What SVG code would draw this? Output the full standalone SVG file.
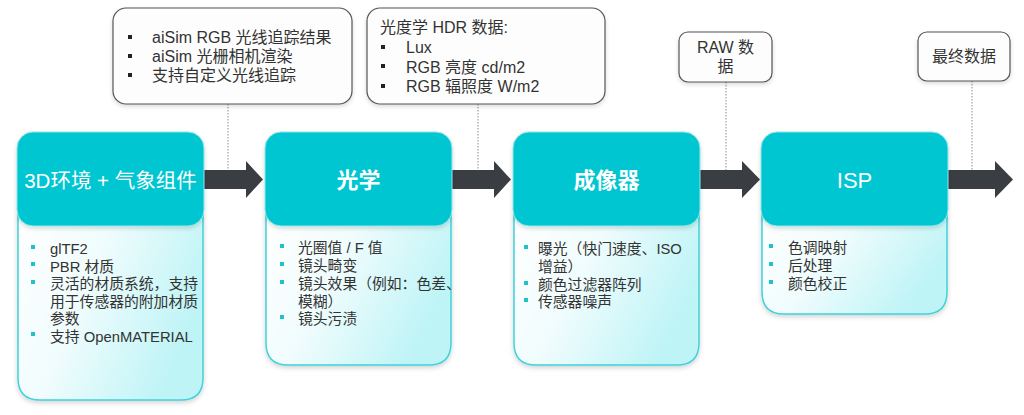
<svg xmlns="http://www.w3.org/2000/svg" width="1024" height="415" viewBox="0 0 1024 415">
<defs>
<linearGradient id="bodyGrad" x1="0" y1="0" x2="1" y2="0.4">
<stop offset="0" stop-color="#ffffff"/>
<stop offset="0.45" stop-color="#f0fcfd"/>
<stop offset="1" stop-color="#bff4f6"/>
</linearGradient>
<filter id="shadow" x="-10%" y="-10%" width="120%" height="125%">
<feDropShadow dx="0" dy="2" stdDeviation="2.5" flood-color="#000" flood-opacity="0.18"/>
</filter>
<filter id="shadowS" x="-10%" y="-10%" width="120%" height="130%">
<feDropShadow dx="0" dy="2" stdDeviation="2" flood-color="#000" flood-opacity="0.15"/>
</filter>
</defs>
<style>
.body{fill:url(#bodyGrad);stroke:#3fd2da;stroke-width:1.5}
.head{fill:#04c6d1;stroke:#8fe6ea;stroke-width:1}
.title{font-family:"Liberation Sans","Noto Sans CJK SC",sans-serif;font-size:22px;fill:#ffffff;text-anchor:middle}
.title-s{font-size:20.5px}
.txt{font-family:"Liberation Sans","Noto Sans CJK SC",sans-serif;font-size:14.8px;fill:#333}
.ctxt{font-family:"Liberation Sans","Noto Sans CJK SC",sans-serif;font-size:16px;fill:#333}
.bul{fill:#1fc2cc}
.cbul{fill:#222}
.call{fill:#fdfdfd;stroke:#555;stroke-width:1.2}
.arrow{fill:#3a3e43}
.dot{stroke:#8a8a8a;stroke-width:1;stroke-dasharray:1.5 1.5;fill:none}
</style>

<g id="connectors">
<line class="dot" x1="228" y1="104" x2="228" y2="172"/>
<line class="dot" x1="478" y1="104" x2="478" y2="172"/>
<line class="dot" x1="726" y1="82" x2="726" y2="172"/>
<line class="dot" x1="972" y1="81" x2="972" y2="172"/>
<path class="arrow" d="M204 170 H246 V161 L263 179.5 L246 198 V189 H204 Z"/>
<path class="arrow" d="M452 170 H494 V161 L511 179.5 L494 198 V189 H452 Z"/>
<path class="arrow" d="M700 170 H742 V161 L760 179.5 L742 198 V189 H700 Z"/>
<path class="arrow" d="M948 170 H995 V161 L1013 179.5 L995 198 V189 H948 Z"/>
</g>

<g id="node-3d">
<path class="body" filter="url(#shadow)" d="M18 215 H203 V378 Q203 400 181 400 H40 Q18 400 18 378 Z"/>
<rect class="head" filter="url(#shadowS)" x="17" y="132" width="187" height="94" rx="16"/>
<text class="title title-s" x="110.5" y="188">3D环境 + 气象组件</text>
<rect class="bul" x="31" y="245" width="4" height="4"/>
<rect class="bul" x="31" y="262" width="4" height="4"/>
<rect class="bul" x="31" y="280" width="4" height="4"/>
<rect class="bul" x="31" y="332" width="4" height="4"/>
<text class="txt" x="50" y="254">glTF2</text>
<text class="txt" x="50" y="271.5">PBR 材质</text>
<text class="txt" x="50" y="289">灵活的材质系统，支持</text>
<text class="txt" x="50" y="306.5">用于传感器的附加材质</text>
<text class="txt" x="50" y="324">参数</text>
<text class="txt" x="50" y="341.5">支持 OpenMATERIAL</text>
</g>

<g id="node-optics">
<path class="body" filter="url(#shadow)" d="M266 215 H451 V343 Q451 365 429 365 H288 Q266 365 266 343 Z"/>
<rect class="head" filter="url(#shadowS)" x="265" y="132" width="187" height="94" rx="16"/>
<text class="title" x="358.5" y="188" font-weight="bold">光学</text>
<rect class="bul" x="280" y="244" width="4" height="4"/>
<rect class="bul" x="280" y="262" width="4" height="4"/>
<rect class="bul" x="280" y="280" width="4" height="4"/>
<rect class="bul" x="280" y="315" width="4" height="4"/>
<text class="txt" x="298" y="253">光圈值 / F 值</text>
<text class="txt" x="298" y="271">镜头畸变</text>
<text class="txt" x="298" y="289">镜头效果（例如：色差、</text>
<text class="txt" x="298" y="306.5">模糊）</text>
<text class="txt" x="298" y="324">镜头污渍</text>
</g>

<g id="node-imager">
<path class="body" filter="url(#shadow)" d="M514 215 H699 V343 Q699 365 677 365 H536 Q514 365 514 343 Z"/>
<rect class="head" filter="url(#shadowS)" x="513" y="132" width="187" height="94" rx="16"/>
<text class="title" x="606.5" y="188" font-weight="bold">成像器</text>
<rect class="bul" x="524" y="245" width="4" height="4"/>
<rect class="bul" x="524" y="281" width="4" height="4"/>
<rect class="bul" x="524" y="298" width="4" height="4"/>
<text class="txt" x="538" y="254">曝光（快门速度、ISO</text>
<text class="txt" x="538" y="271.5">增益）</text>
<text class="txt" x="538" y="289.5">颜色过滤器阵列</text>
<text class="txt" x="538" y="307">传感器噪声</text>
</g>

<g id="node-isp">
<path class="body" filter="url(#shadow)" d="M762 215 H947 V292 Q947 314 925 314 H784 Q762 314 762 292 Z"/>
<rect class="head" filter="url(#shadowS)" x="761" y="132" width="187" height="94" rx="16"/>
<text class="title" x="854.5" y="188">ISP</text>
<rect class="bul" x="769" y="244" width="4" height="4"/>
<rect class="bul" x="769" y="262" width="4" height="4"/>
<rect class="bul" x="769" y="280" width="4" height="4"/>
<text class="txt" x="788" y="253">色调映射</text>
<text class="txt" x="788" y="271">后处理</text>
<text class="txt" x="788" y="289">颜色校正</text>
</g>

<g id="callout-render">
<rect class="call" filter="url(#shadowS)" x="113" y="8" width="239" height="96" rx="13"/>
<rect class="cbul" x="128" y="35" width="4" height="4"/>
<rect class="cbul" x="128" y="54" width="4" height="4"/>
<rect class="cbul" x="128" y="73" width="4" height="4"/>
<text class="ctxt" x="152" y="43">aiSim RGB 光线追踪结果</text>
<text class="ctxt" x="152" y="62">aiSim 光栅相机渲染</text>
<text class="ctxt" x="152" y="81">支持自定义光线追踪</text>
</g>

<g id="callout-hdr">
<rect class="call" filter="url(#shadowS)" x="367" y="8" width="238" height="96" rx="13"/>
<rect class="cbul" x="381" y="45" width="4" height="4"/>
<rect class="cbul" x="381" y="64" width="4" height="4"/>
<rect class="cbul" x="381" y="84" width="4" height="4"/>
<text class="ctxt" x="380" y="33">光度学 HDR 数据:</text>
<text class="ctxt" x="406" y="53">Lux</text>
<text class="ctxt" x="406" y="72.5">RGB 亮度 cd/m2</text>
<text class="ctxt" x="406" y="92">RGB 辐照度 W/m2</text>
</g>

<g id="callout-raw">
<rect class="call" filter="url(#shadowS)" x="679" y="32" width="93" height="50" rx="9"/>
<text class="ctxt" x="725.5" y="53" text-anchor="middle">RAW 数</text>
<text class="ctxt" x="725.5" y="72" text-anchor="middle">据</text>
</g>

<g id="callout-final">
<rect class="call" filter="url(#shadowS)" x="918" y="32" width="92" height="49" rx="9"/>
<text class="ctxt" x="964" y="62" text-anchor="middle">最终数据</text>
</g>
</svg>
